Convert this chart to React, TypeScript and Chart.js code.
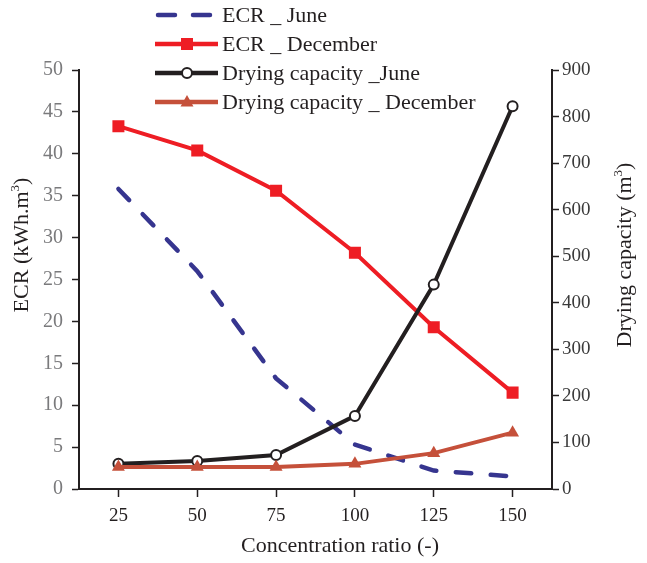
import React, { useEffect, useRef } from 'react';
import { Chart, registerables } from 'chart.js';

Chart.register(...registerables);

// ---- data ----
const categories = ['25', '50', '75', '100', '125', '150'];
const ecrJune = [35.8, 26.0, 13.2, 5.3, 2.2, 1.5];
const ecrDecember = [43.3, 40.4, 35.6, 28.2, 19.3, 11.5];
const dryingJune = [54, 60, 73, 157, 439, 822];
const dryingDecember = [47, 47, 47, 54, 77, 121];
const leftAxisRange = [0, 50, 5];
const rightAxisRange = [0, 900, 100];
const seriesNames = ['ECR _ June', 'ECR _ December', 'Drying capacity _June', 'Drying capacity _ December'];
const xTitle = 'Concentration ratio (-)';
const leftTitle = [['ECR (kWh.m', false], ['3', true], [')', false]] as [string, boolean][];
const rightTitle = [['Drying capacity (m', false], ['3', true], [')', false]] as [string, boolean][];

// ---- styles ----
const NAVY = '#36358F';
const RED = '#EE1D24';
const BLACK = '#231F20';
const BROWN = '#C5503A';
const FONT = "'Liberation Serif', 'Times New Roman', serif";

function drawRich(ctx: CanvasRenderingContext2D, parts: [string, boolean][], size: number) {
  const supSize = Math.round(size * 0.6);
  let total = 0;
  const widths = parts.map(([t, sup]) => {
    ctx.font = `${sup ? supSize : size}px ${FONT}`;
    const w = ctx.measureText(t).width;
    total += w;
    return w;
  });
  let x = -total / 2;
  ctx.textAlign = 'left';
  ctx.textBaseline = 'middle';
  parts.forEach(([t, sup], i) => {
    ctx.font = `${sup ? supSize : size}px ${FONT}`;
    ctx.fillText(t, x, sup ? -size * 0.28 : 0);
    x += widths[i];
  });
}

function drawMarker(ctx: CanvasRenderingContext2D, kind: string, x: number, y: number, color: string) {
  ctx.save();
  ctx.setLineDash([]);
  if (kind === 'rect') {
    ctx.fillStyle = color;
    ctx.fillRect(x - 6, y - 6, 12, 12);
  } else if (kind === 'circle') {
    ctx.beginPath();
    ctx.arc(x, y, 5, 0, Math.PI * 2);
    ctx.fillStyle = '#ffffff';
    ctx.fill();
    ctx.lineWidth = 2;
    ctx.strokeStyle = color;
    ctx.stroke();
  } else if (kind === 'triangle') {
    ctx.beginPath();
    ctx.moveTo(x, y - 7);
    ctx.lineTo(x + 6.5, y + 4.5);
    ctx.lineTo(x - 6.5, y + 4.5);
    ctx.closePath();
    ctx.fillStyle = color;
    ctx.fill();
  }
  ctx.restore();
}

const overlayPlugin = {
  id: 'overlay',
  afterDraw(chart: any) {
    const ctx: CanvasRenderingContext2D = chart.ctx;
    ctx.save();
    // legend
    const colors = [NAVY, RED, BLACK, BROWN];
    const markers = ['none', 'rect', 'circle', 'triangle'];
    seriesNames.forEach((name, i) => {
      const y = 15 + i * 29;
      ctx.strokeStyle = colors[i];
      ctx.lineWidth = 4.5;
      if (i === 0) {
        ctx.lineCap = 'round';
        ctx.beginPath();
        ctx.moveTo(158, y);
        ctx.lineTo(175, y);
        ctx.moveTo(193, y);
        ctx.lineTo(210, y);
        ctx.stroke();
      } else {
        ctx.lineCap = 'butt';
        ctx.beginPath();
        ctx.moveTo(155, y);
        ctx.lineTo(218, y);
        ctx.stroke();
        drawMarker(ctx, markers[i], 187, y, colors[i]);
      }
      ctx.fillStyle = BLACK;
      ctx.font = `22px ${FONT}`;
      ctx.textAlign = 'left';
      ctx.textBaseline = 'middle';
      ctx.fillText(name, 222, y + 1);
    });
    // axis titles
    ctx.fillStyle = BLACK;
    ctx.save();
    ctx.translate(22, 245);
    ctx.rotate(-Math.PI / 2);
    drawRich(ctx, leftTitle, 22);
    ctx.restore();
    ctx.save();
    ctx.translate(625, 255);
    ctx.rotate(-Math.PI / 2);
    drawRich(ctx, rightTitle, 22);
    ctx.restore();
    ctx.save();
    ctx.translate(340, 546);
    drawRich(ctx, [[xTitle, false]], 22);
    ctx.restore();
    ctx.restore();
  },
};

export default function App() {
  const ref = useRef<HTMLCanvasElement>(null);
  useEffect(() => {
    if (!ref.current) return;
    const chart = new Chart(ref.current, {
      type: 'line',
      data: {
        labels: categories,
        datasets: [
          {
            label: seriesNames[3],
            data: dryingDecember,
            yAxisID: 'y1',
            borderColor: BROWN,
            backgroundColor: BROWN,
            borderWidth: 4,
            pointStyle: 'triangle',
            pointRadius: 7.5,
            pointBorderWidth: 0,
            order: 0,
          },
          {
            label: seriesNames[2],
            data: dryingJune,
            yAxisID: 'y1',
            borderColor: BLACK,
            backgroundColor: '#ffffff',
            pointBackgroundColor: '#ffffff',
            pointBorderColor: BLACK,
            borderWidth: 4,
            pointStyle: 'circle',
            pointRadius: 5,
            pointBorderWidth: 2,
            order: 1,
          },
          {
            label: seriesNames[1],
            data: ecrDecember,
            yAxisID: 'y',
            borderColor: RED,
            backgroundColor: RED,
            borderWidth: 4,
            pointStyle: 'rect',
            pointRadius: 8.5,
            pointBorderWidth: 0,
            order: 2,
          },
          {
            label: seriesNames[0],
            data: ecrJune,
            yAxisID: 'y',
            borderColor: NAVY,
            backgroundColor: NAVY,
            borderWidth: 4.5,
            borderDash: [15.5, 19.5],
            borderCapStyle: 'round',
            pointRadius: 0,
            order: 3,
          },
        ],
      },
      options: {
        responsive: false,
        animation: false,
        layout: { padding: { top: 70, left: 0, right: 0, bottom: 0 } },
        plugins: { legend: { display: false }, tooltip: { enabled: false } },
        scales: {
          x: {
            type: 'category',
            offset: true,
            grid: { display: true, drawOnChartArea: false, drawTicks: true, tickLength: 8, tickColor: BLACK, tickWidth: 1.5 },
            border: { display: true, color: BLACK, width: 2 },
            ticks: { color: BLACK, font: { family: FONT, size: 19 }, padding: 8, maxRotation: 0 },
            afterFit: (s: any) => { s.height = 74; },
          },
          y: {
            position: 'left',
            min: leftAxisRange[0],
            max: leftAxisRange[1],
            grid: { display: true, drawOnChartArea: false, drawTicks: true, tickLength: 7, tickColor: BLACK, tickWidth: 1.5 },
            border: { display: true, color: BLACK, width: 2 },
            ticks: { stepSize: leftAxisRange[2], color: '#7A7A7C', font: { family: FONT, size: 20 }, padding: 9 },
            afterFit: (s: any) => { s.width = 79; },
          },
          y1: {
            position: 'right',
            min: rightAxisRange[0],
            max: rightAxisRange[1],
            grid: { display: true, drawOnChartArea: false, drawTicks: true, tickLength: 7, tickColor: BLACK, tickWidth: 1.5 },
            border: { display: true, color: BLACK, width: 2 },
            ticks: { stepSize: rightAxisRange[2], color: '#3A3A3A', font: { family: FONT, size: 19 }, padding: 3 },
            afterFit: (s: any) => { s.width = 95; },
          },
        },
      },
      plugins: [overlayPlugin],
    } as any);
    return () => chart.destroy();
  }, []);
  return (
    <div style={{ position: 'absolute', left: 0, top: 0, width: 647, height: 563, background: '#ffffff' }}>
      <canvas ref={ref} width={647} height={563} style={{ display: 'block', width: 647, height: 563 }} />
    </div>
  );
}
